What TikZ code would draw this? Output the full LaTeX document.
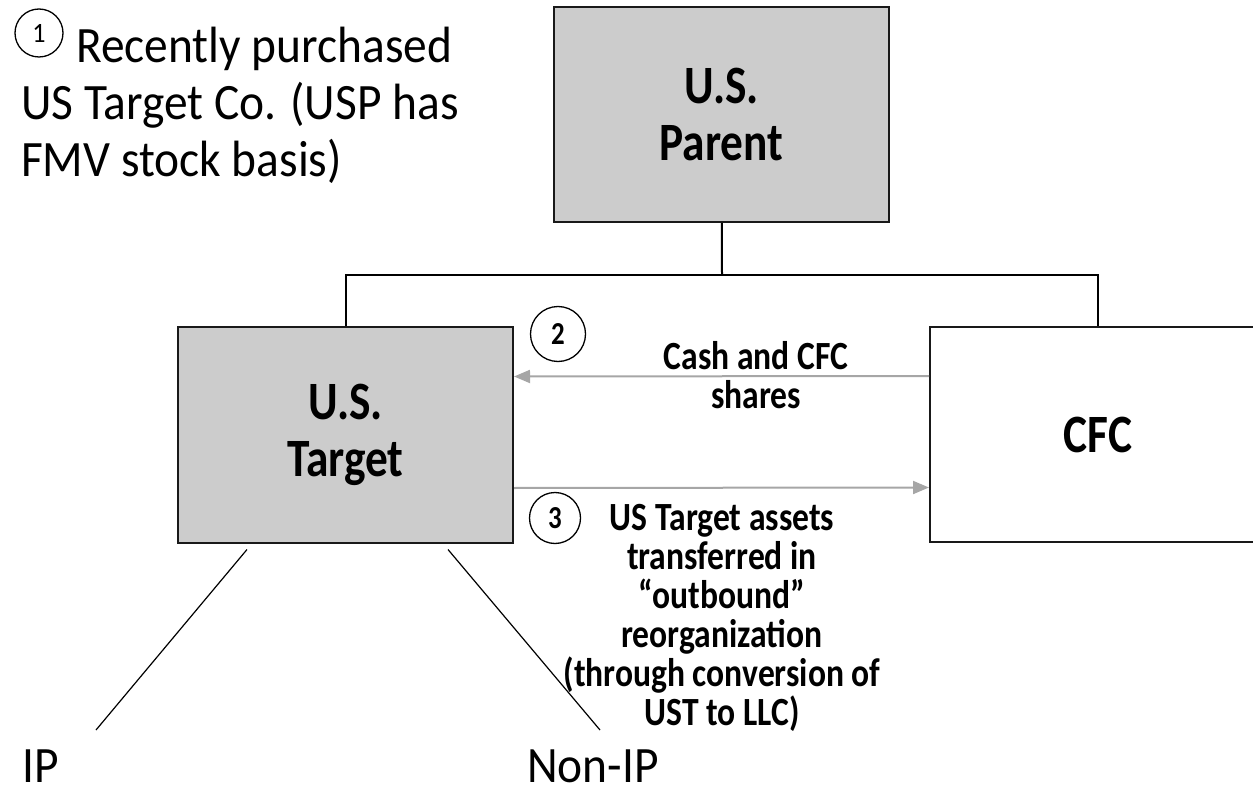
\documentclass[tikz,border=0pt]{standalone}
\usepackage{fontspec}
\setmainfont{Carlito}[UprightFeatures={FakeStretch=0.93},BoldFeatures={FakeStretch=0.84}]
\usetikzlibrary{positioning,arrows.meta}

\tikzset{
  entity/.style={draw=black!90, line width=2pt, minimum width=335pt, minimum height=215pt,
    inner sep=0pt, align=center, font=\bfseries\fontsize{54}{57}\selectfont},
  owned/.style={entity, fill=black!20},
  link/.style={line width=2pt},
  leg/.style={line width=1.2pt},
  flow/.style={draw=black!35, line width=2pt, -{Triangle[length=16pt,width=13pt]}},
  stepmark/.style={circle, draw, line width=1.3pt, minimum size=#1, inner sep=0pt},
  note/.style={font=\bfseries\fontsize{40}{39}\selectfont, align=center, inner sep=0pt},
  plain/.style={font=\fontsize{51}{57}\selectfont, inner sep=0pt},
}

\begin{document}
\begin{tikzpicture}[x=1pt,y=-1pt]
  \useasboundingbox (0,0) rectangle (1253,786);

  % the three companies
  \node (usp) [owned] at (721.5,114.5) {U.S.\\Parent};
  \node (ust) [owned] at (345.5,435) {U.S.\\Target};
  \node (cfc) [entity, minimum width=336pt] at (1098,434.5) {CFC};

  % ownership
  \coordinate (bar) at (722,275);
  \draw[link] (usp) -- (bar);
  \draw[link] (ust) |- (bar) -| (cfc);

  % steps 2 and 3
  \draw[flow] ([yshift=58.5pt]cfc.west) -- ([yshift=58.5pt]ust.east);
  \draw[flow] ([yshift=-53pt]ust.east) -- ([yshift=-53pt]cfc.west);

  \node (two) [stepmark=55pt, font=\bfseries\fontsize{32}{32}\selectfont] at (558,334) {2};
  \node (three) [stepmark=51pt, font=\bfseries\fontsize{32}{32}\selectfont] at (555,518) {3};
  \node (cash) [note, anchor=base] at (756,408) {Cash and CFC\\shares};
  \node (assets) [note, anchor=base] at (722,725)
    {US Target assets\\transferred in\\``outbound''\\reorganization\\(through conversion of\\UST to LLC)};

  % step 1
  \node (one) [stepmark=48pt, font=\fontsize{28}{28}\selectfont] at (39,33) {1};
  \node (purchase) [plain, align=left, anchor=base west] at (21,177)
    {\hspace{55pt}Recently purchased\\US Target Co. (USP has\\FMV stock basis)};

  % assets of the target
  \node (ip) [plain, text depth=0pt, anchor=base west] at (22,782) {IP};
  \node (nonip) [plain, text depth=0pt, anchor=base west] at (527,782) {Non-IP};
  \coordinate (ipend) at (96,730);
  \coordinate (nonipend) at (600,730);
  \draw[leg] ([xshift=-98.5pt,yshift=-6pt]ust.south) -- (ipend);
  \draw[leg] ([xshift=102.5pt,yshift=-6pt]ust.south) -- (nonipend);
\end{tikzpicture}
\end{document}
